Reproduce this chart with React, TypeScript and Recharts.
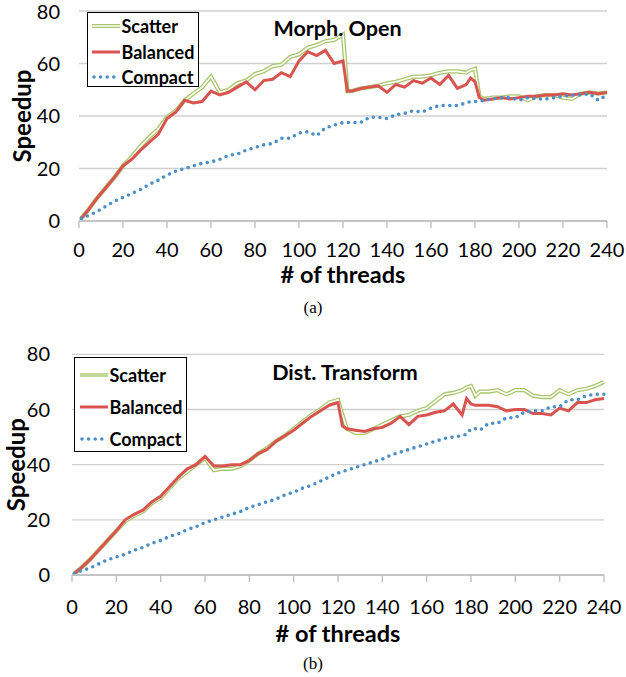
import { CartesianGrid, Legend, Line, LineChart, XAxis, YAxis } from 'recharts';

// x positions (# of threads) shared by every series
const threads = [
  1, 4, 8, 12, 16, 20, 24, 28, 32, 36, 40, 44, 48, 52, 56, 60, 64, 68, 72, 76, 80, 84, 88, 92, 96, 100,
  104, 108, 112, 116, 120, 122, 124, 128, 132, 136, 140, 144, 148, 152, 156, 160, 164, 168, 172, 176,
  178, 180, 182, 184, 188, 192, 196, 200, 204, 208, 212, 216, 220, 224, 228, 232, 236, 240,
];

// (a) Morph. Open
const morphScatter = [
  1, 4, 8.5, 12.5, 16.5, 21, 24.5, 28.5, 32, 35, 39.5, 42, 46, 48.5, 51, 55, 49, 50, 52.5, 53.5, 56, 57,
  59, 59.5, 62.5, 63.5, 66, 67, 68.5, 69, 71, 49.5, 49.5, 50.5, 51, 51.5, 52.5, 53, 54, 55, 55, 55.5,
  56.5, 57, 57, 56.5, 57.5, 58, 47.5, 46.5, 47, 47, 47.5, 47.5, 46, 47.5, 48, 48, 47, 46.5, 48.5, 49,
  48.5, 49,
];
const morphBalanced = [
  1, 4, 8.5, 12.5, 16.5, 21, 23.5, 27, 30, 33, 39, 41.5, 46, 45, 45.5, 49.5, 48, 49, 51, 53, 50, 53.5,
  54, 56.5, 55, 61, 64.5, 63, 65, 60, 61, 49.5, 49.5, 50.5, 51, 51.5, 49, 52, 51, 53.5, 52.5, 54.5, 52,
  55.5, 50.5, 52, 54.5, 53, 47, 46, 46.5, 47, 46.5, 47, 47.5, 47.5, 48, 48, 48.5, 48, 48.5, 49, 48.5, 49,
];
const morphCompact = [
  1, 2, 3.5, 5.5, 7.5, 9, 10.5, 12, 14, 15.5, 17.5, 19, 20, 21, 22, 22.5, 23.5, 25, 25.5, 27, 28, 29,
  29.5, 31.5, 31.5, 33.5, 34, 32.5, 35.5, 36.5, 37.5, 37.5, 37.5, 37.5, 39.5, 39.5, 39, 40.5, 41, 42,
  41.5, 43, 44, 44, 44, 45, 45.5, 45.5, 45.5, 46, 46.5, 47, 47, 46, 47, 46.5, 46.5, 47, 47.5, 48, 48,
  48.5, 46, 48,
];

// (b) Dist. Transform
const distScatter = [
  0.5, 2.5, 5.5, 9, 12.5, 16, 19.5, 21.5, 23, 26, 28, 31.5, 35, 37.5, 40, 42.5, 38, 38.5, 38.5, 39.5,
  41.5, 44, 46, 48.5, 50.5, 53, 55.5, 58, 60, 62.5, 63.5, 58, 53, 51.5, 51.5, 53, 54.5, 56, 57.5, 58,
  59.5, 60.5, 63, 65.5, 66, 67, 68, 68.5, 65, 66.5, 66.5, 67, 65.5, 67, 67, 65, 64.5, 64.5, 67, 65.5, 67,
  67.5, 68.5, 70,
];
const distBalanced = [
  0.5, 2.5, 5.5, 9, 12.5, 16, 20, 22, 23.5, 26.5, 28.5, 32, 35.5, 38.5, 40, 43, 39.5, 39.5, 40, 40,
  41.5, 44, 45.5, 48.5, 50.5, 52.5, 55, 57.5, 59.5, 61.5, 62.5, 54, 53, 52.5, 52, 53, 53.5, 55, 57.5,
  54.5, 57.5, 58, 59, 59.5, 62, 58, 64, 62, 61.5, 61.5, 61.5, 61, 59.5, 60, 60, 58.5, 58.5, 58, 60.5,
  59.5, 62.5, 62.5, 63.5, 64,
];
const distCompact = [
  0.5, 1.5, 2.5, 4, 5.5, 6.5, 7.5, 9, 10, 11.5, 12.5, 14, 15, 16.5, 17.5, 19, 20, 21, 22, 23, 24.5,
  25.5, 26.5, 27.5, 29, 30, 31.5, 32.5, 34, 35.5, 37, 37.5, 38, 39, 40, 41, 42, 43.5, 44.5, 45.5, 46.5,
  47.5, 48.5, 49.5, 50, 50.5, 51, 53, 53, 52.5, 55, 55, 57, 57, 59, 59.5, 59.5, 61, 61, 63.5, 63.5, 65,
  65.5, 65.5,
];

const seriesOrder = ['scatter', 'balanced', 'compact'];
const xTicks = [0, 20, 40, 60, 80, 100, 120, 140, 160, 180, 200, 220, 240];
const yTicks = [0, 20, 40, 60, 80];

const FONT = "Lato, 'Open Sans', sans-serif";
const GREEN = '#a9c56c';
const RED = '#d9534f';
const BLUE = '#4a8fc8';
const GRID = '#d0d0d0';
const AXIS = '#bcbcbc';

const toRows = (s: number[], b: number[], c: number[]) =>
  threads.map((t, i) => ({ threads: t, scatter: s[i], balanced: b[i], compact: c[i] }));

function Sample({ kind, solid }: { kind: string; solid: boolean }) {
  return (
    <svg width={28} height={10} style={{ display: 'block' }}>
      {kind === 'scatter' && (
        <>
          <line x1={0} y1={5} x2={28} y2={5} stroke={solid ? '#c4d89c' : GREEN} strokeWidth={4} />
          {!solid && <line x1={0} y1={5} x2={28} y2={5} stroke="#fff" strokeWidth={1.5} />}
        </>
      )}
      {kind === 'balanced' && <line x1={0} y1={5} x2={28} y2={5} stroke={RED} strokeWidth={3} />}
      {kind === 'compact' && (
        <line x1={2} y1={5} x2={28} y2={5} stroke={BLUE} strokeWidth={3.6} strokeDasharray="0 6.6" strokeLinecap="round" />
      )}
    </svg>
  );
}

function LegendBox({ payload, rowH, padTop, padLeft, solid }: any) {
  const items = (payload || [])
    .filter((e: any) => e.type !== 'none')
    .sort((a: any, b: any) => seriesOrder.indexOf(a.dataKey) - seriesOrder.indexOf(b.dataKey));
  return (
    <div
      style={{
        boxSizing: 'border-box',
        width: '100%',
        height: '100%',
        border: '1.5px solid #000',
        background: '#fff',
        paddingTop: padTop,
        paddingLeft: padLeft,
        fontFamily: FONT,
        fontWeight: 700,
        fontSize: 18,
        color: '#000',
      }}
    >
      {items.map((e: any) => (
        <div key={e.value} style={{ display: 'flex', alignItems: 'center', height: rowH, gap: 2 }}>
          <Sample kind={e.dataKey} solid={solid} />
          <span>{e.value}</span>
        </div>
      ))}
    </div>
  );
}

interface PanelProps {
  top: number;
  height: number;
  title: string;
  titleX: number;
  titleY: number;
  rows: ReturnType<typeof toRows>;
  plotTop: number;
  bottom: number;
  right: number;
  yWidth: number;
  yTickMargin: number;
  xTickMargin: number;
  xLabelOffset: number;
  yLabelOffset: number;
  legend: { left: number; top: number; width: number; height: number; rowH: number; padTop: number; padLeft: number; solid: boolean };
}

function Panel(p: PanelProps) {
  const lg = p.legend;
  return (
    <div style={{ position: 'absolute', left: 0, top: p.top, width: 626, height: p.height }}>
      <LineChart width={626} height={p.height} data={p.rows} margin={{ top: p.plotTop, right: p.right, left: 0, bottom: p.bottom }}>
        <CartesianGrid vertical={false} stroke={GRID} strokeWidth={1.3} />
        <XAxis
          dataKey="threads"
          type="number"
          domain={[0, 240]}
          ticks={xTicks}
          height={70}
          tickSize={7}
          tickMargin={p.xTickMargin}
          axisLine={{ stroke: AXIS, strokeWidth: 1.3 }}
          tickLine={{ stroke: AXIS, strokeWidth: 1.3 }}
          tick={{ fill: '#000', fontSize: 20, fontFamily: FONT }}
          label={{
            value: '# of threads',
            position: 'insideBottom',
            offset: p.xLabelOffset,
            style: { fill: '#000', fontSize: 23.5, fontWeight: 700, fontFamily: FONT },
          }}
        />
        <YAxis
          type="number"
          domain={[0, 80]}
          ticks={yTicks}
          width={p.yWidth}
          axisLine={false}
          tickLine={false}
          tickSize={0}
          tickMargin={p.yTickMargin}
          tick={{ fill: '#000', fontSize: 20, fontFamily: FONT }}
          label={{
            value: 'Speedup',
            angle: -90,
            position: 'insideLeft',
            offset: p.yLabelOffset,
            style: { textAnchor: 'middle', fill: '#000', fontSize: 24, fontWeight: 700, fontFamily: FONT },
          }}
        />
        <Legend
          layout="horizontal"
          align="center"
          verticalAlign="middle"
          width={lg.width}
          height={lg.height}
          wrapperStyle={{ left: lg.left, top: lg.top, width: lg.width, height: lg.height }}
          content={(props: any) => (
            <LegendBox payload={props.payload} rowH={lg.rowH} padTop={lg.padTop} padLeft={lg.padLeft} solid={lg.solid} />
          )}
        />
        <Line type="linear" dataKey="scatter" name="Scatter" stroke={GREEN} strokeWidth={4.2} dot={false} isAnimationActive={false} />
        <Line type="linear" dataKey="scatter" name="scatter-core" legendType="none" stroke="#fff" strokeWidth={1.6} dot={false} isAnimationActive={false} />
        <Line type="linear" dataKey="balanced" name="Balanced" stroke={RED} strokeWidth={3} dot={false} isAnimationActive={false} />
        <Line
          type="linear"
          dataKey="compact"
          name="Compact"
          stroke={BLUE}
          strokeWidth={3.6}
          strokeDasharray="0 6.6"
          strokeLinecap="round"
          dot={false}
          isAnimationActive={false}
        />
      </LineChart>
      <div
        style={{
          position: 'absolute',
          left: p.titleX,
          top: p.titleY,
          transform: 'translate(-50%, -50%)',
          whiteSpace: 'nowrap',
          lineHeight: 1,
          fontFamily: FONT,
          fontWeight: 700,
          fontSize: 21.5,
          color: '#000',
        }}
      >
        {p.title}
      </div>
    </div>
  );
}

function Caption({ text, x, y }: { text: string; x: number; y: number }) {
  return (
    <div
      style={{
        position: 'absolute',
        left: x,
        top: y,
        transform: 'translate(-50%, -50%)',
        lineHeight: 1,
        fontFamily: "'Liberation Serif', 'DejaVu Serif', serif",
        fontSize: 17,
        color: '#000',
      }}
    >
      {text}
    </div>
  );
}

export default function App() {
  return (
    <div style={{ position: 'absolute', left: 0, top: 0, width: 626, height: 677, background: '#fff', overflow: 'hidden' }}>
      <Panel
        top={0}
        height={300}
        title="Morph. Open"
        titleX={337.5}
        titleY={28.5}
        rows={toRows(morphScatter, morphBalanced, morphCompact)}
        plotTop={11}
        bottom={9}
        right={19}
        yWidth={79}
        yTickMargin={19}
        xTickMargin={15}
        xLabelOffset={8}
        yLabelOffset={22}
        legend={{ left: 87, top: 12, width: 112, height: 75, rowH: 25.5, padTop: 0.5, padLeft: 3.5, solid: false }}
      />
      <Caption text="(a)" x={313} y={307} />
      <Panel
        top={340}
        height={310}
        title="Dist. Transform"
        titleX={345}
        titleY={32.5}
        rows={toRows(distScatter, distBalanced, distCompact)}
        plotTop={14.3}
        bottom={5}
        right={22}
        yWidth={72}
        yTickMargin={22}
        xTickMargin={18}
        xLabelOffset={3}
        yLabelOffset={16}
        legend={{ left: 74, top: 17, width: 113, height: 95, rowH: 32, padTop: 0.5, padLeft: 4.5, solid: true }}
      />
      <Caption text="(b)" x={313} y={663} />
    </div>
  );
}
